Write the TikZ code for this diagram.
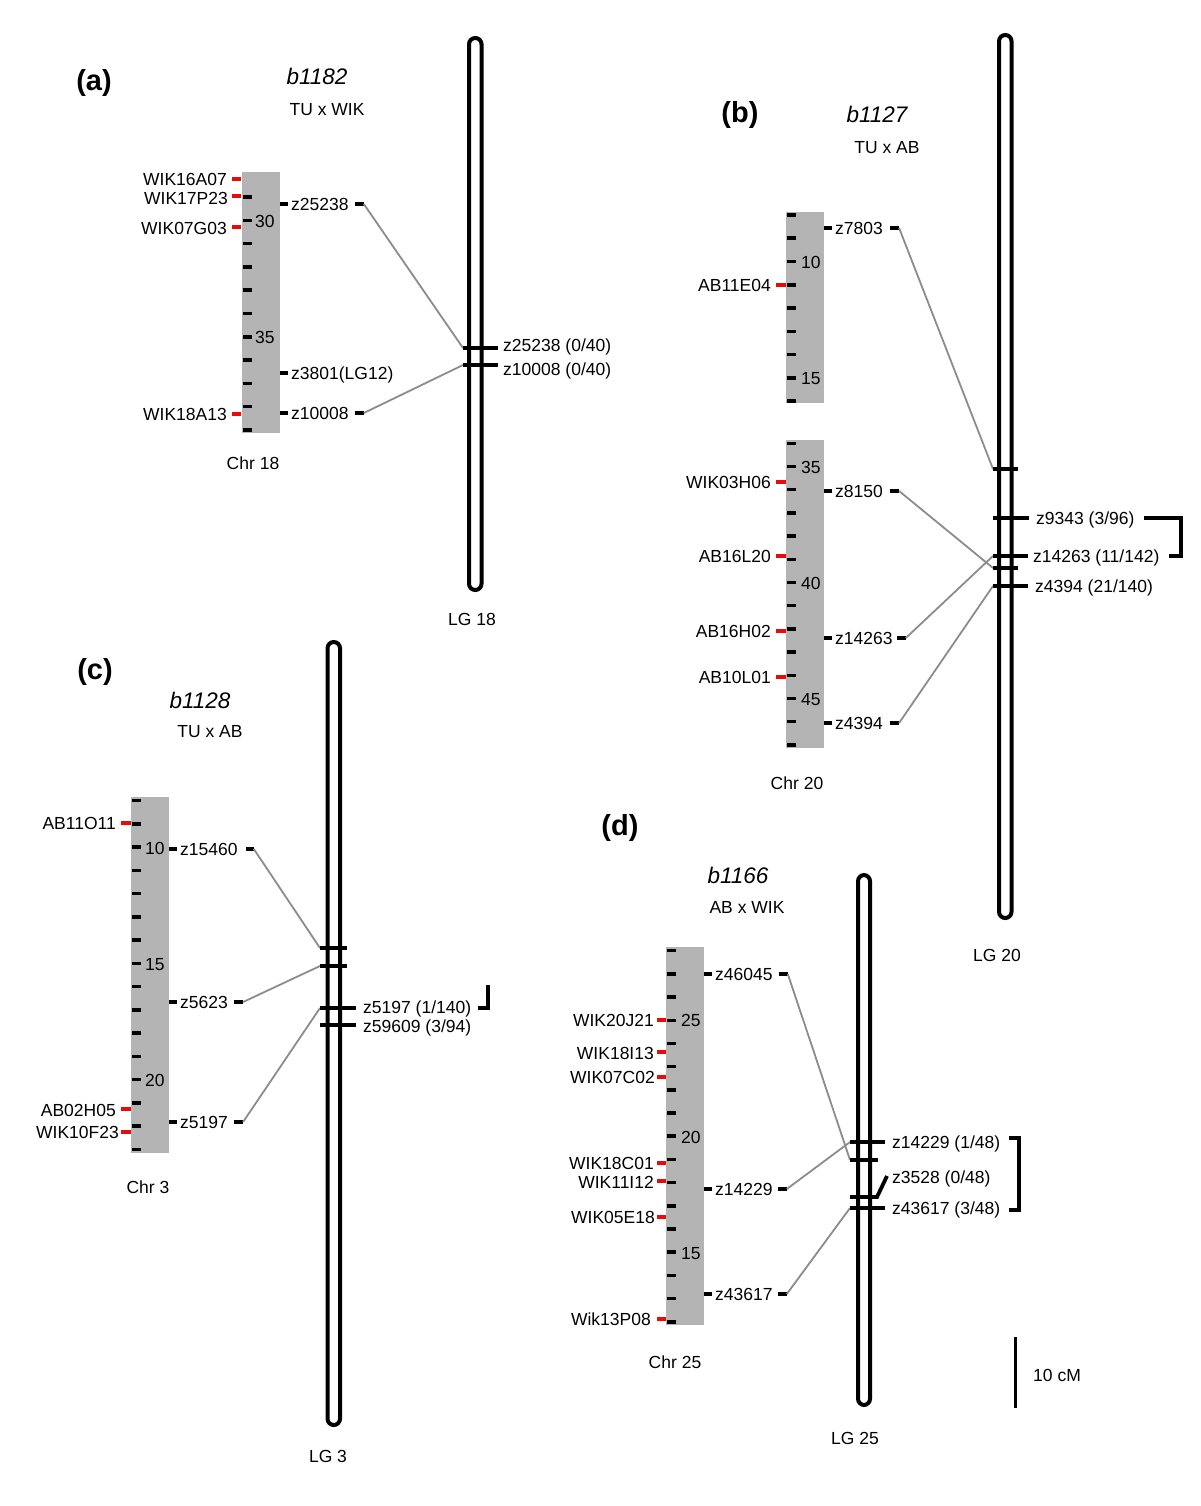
\documentclass[tikz,border=0pt]{standalone}
\usepackage{fontspec}
\setmainfont{Liberation Sans}
\definecolor{chrgray}{RGB}{180,180,180}
\definecolor{linkgray}{RGB}{140,140,140}
\definecolor{mred}{RGB}{235,10,10}
\begin{document}
\begin{tikzpicture}[x=1pt,y=-1pt,
        mtick/.style={line width=3.5pt},
        rtick/.style={line width=3.5pt,color=mred},
        cross/.style={line width=3.8pt},
        link/.style={line width=1.8pt,color=linkgray},
        lgbar/.style={line width=4pt,rounded corners=6.2pt},
        chr/.style={fill=chrgray},
        lbl/.style={inner sep=0pt,text height=12.5pt,text depth=0pt,
            font=\fontsize{17.5}{20}\selectfont},
        panel/.style={inner sep=0pt,font=\fontsize{29}{32}\selectfont\bfseries},
        clone/.style={inner sep=0pt,text height=16pt,text depth=0pt,
            font=\fontsize{22.5}{26}\selectfont\itshape}]
\fill[white] (0,0) rectangle (1200,1506);

% (a) b1182
\node[panel] (pa) at (94,83) {(a)};
\node[clone] (b1182) at (317,77) {b1182};
\node[lbl] (crossa) at (327,109) {TU x WIK};
\fill[chr] (242,172) rectangle (280,433);
\foreach \k in {0,...,10} \draw[mtick] (243,{197+23.3*\k}) -- ++(9,0);
\node[lbl,anchor=west] (a30) at (255,221) {30};
\node[lbl,anchor=west] (a35) at (255,337) {35};
\draw[rtick] (232,179) -- (241,179);
\node[lbl,anchor=east] (wik16a07) at (227,179) {WIK16A07};
\draw[rtick] (232,196) -- (241,196);
\node[lbl,anchor=east] (wik17p23) at (228,198) {WIK17P23};
\draw[rtick] (232,227) -- (241,227);
\node[lbl,anchor=east] (wik07g03) at (227,228) {WIK07G03};
\draw[rtick] (232,414) -- (241,414);
\node[lbl,anchor=east] (wik18a13) at (227,414) {WIK18A13};
\draw[mtick] (280,204) -- (288,204);
\node[lbl,anchor=west] (z25238) at (291,204) {z25238};
\draw[mtick] ([xshift=6pt]z25238.east) -- ++(9,0) coordinate (z25238e);
\draw[mtick] (280,373) -- (288,373);
\node[lbl,anchor=west] (z3801) at (291,373) {z3801(LG12)};
\draw[mtick] (280,413) -- (288,413);
\node[lbl,anchor=west] (z10008) at (291,413) {z10008};
\draw[mtick] ([xshift=6pt]z10008.east) -- ++(9,0) coordinate (z10008e);
\node[lbl] (chr18) at (253,463) {Chr 18};

\coordinate (lg18a) at (463,348);
\coordinate (lg18b) at (463,365);
\draw[link] (z25238e) -- (lg18a);
\draw[link] (z10008e) -- (lg18b);
\draw[lgbar] (469,38) rectangle (481.5,590);
\draw[cross] (lg18a) -- ++(35,0);
\draw[cross] (lg18b) -- ++(35,0);
\node[lbl,anchor=west] (m25238) at (503,345) {z25238 (0/40)};
\node[lbl,anchor=west] (m10008) at (503,369) {z10008 (0/40)};
\node[lbl] (lg18) at (472,619) {LG 18};

% (b) b1127
\node[panel] (pb) at (740,115) {(b)};
\node[clone] (b1127) at (877,115) {b1127};
\node[lbl] (crossb) at (887,147) {TU x AB};
\fill[chr] (786,212) rectangle (824,403);
\foreach \k in {0,...,8} \draw[mtick] (787,{215+23.25*\k}) -- ++(9,0);
\node[lbl,anchor=west] (b10) at (801,262) {10};
\node[lbl,anchor=west] (b15) at (801,378) {15};
\draw[rtick] (776,285) -- (786,285);
\node[lbl,anchor=east] (ab11e04) at (771,285) {AB11E04};
\draw[mtick] (824,228) -- (832,228);
\node[lbl,anchor=west] (z7803) at (835,228) {z7803};
\draw[mtick] ([xshift=7pt]z7803.east) -- ++(9,0) coordinate (z7803e);

\fill[chr] (786,440) rectangle (824,748);
\foreach \k in {0,...,13} \draw[mtick] (787,{443.3+23.2*\k}) -- ++(9,0);
\node[lbl,anchor=west] (b35) at (801,467) {35};
\node[lbl,anchor=west] (b40) at (801,583) {40};
\node[lbl,anchor=west] (b45) at (801,699) {45};
\draw[rtick] (776,482) -- (786,482);
\node[lbl,anchor=east] (wik03h06) at (771,482) {WIK03H06};
\draw[rtick] (776,556) -- (786,556);
\node[lbl,anchor=east] (ab16l20) at (771,556) {AB16L20};
\draw[rtick] (776,631) -- (786,631);
\node[lbl,anchor=east] (ab16h02) at (771,631) {AB16H02};
\draw[rtick] (776,677) -- (786,677);
\node[lbl,anchor=east] (ab10l01) at (771,677) {AB10L01};
\draw[mtick] (824,491) -- (832,491);
\node[lbl,anchor=west] (z8150) at (835,491) {z8150};
\draw[mtick] ([xshift=7pt]z8150.east) -- ++(9,0) coordinate (z8150e);
\draw[mtick] (824,638) -- (832,638);
\node[lbl,anchor=west] (z14263) at (835,638) {z14263};
\draw[mtick] ([xshift=4pt]z14263.east) -- ++(9,0) coordinate (z14263e);
\draw[mtick] (824,723) -- (832,723);
\node[lbl,anchor=west] (z4394) at (835,723) {z4394};
\draw[mtick] ([xshift=7pt]z4394.east) -- ++(9,0) coordinate (z4394e);
\node[lbl] (chr20) at (797,783) {Chr 20};

\coordinate (lg20a) at (993,469);
\coordinate (lg20b) at (993,518);
\coordinate (lg20c) at (993,556);
\coordinate (lg20d) at (993,568);
\coordinate (lg20e) at (993,586);
\draw[link] (z7803e) -- (lg20a);
\draw[link] (z8150e) -- (lg20d);
\draw[link] (z14263e) -- (lg20c);
\draw[link] (z4394e) -- (lg20e);
\draw[lgbar] (999,35) rectangle (1011.5,918);
\draw[cross] (lg20a) -- ++(25,0);
\draw[cross] (lg20b) -- ++(36,0);
\draw[cross] (lg20c) -- ++(35,0);
\draw[cross] (lg20d) -- ++(25,0);
\draw[cross] (lg20e) -- ++(35,0);
\node[lbl,anchor=west] (m9343) at (1036,518) {z9343 (3/96)};
\node[lbl,anchor=west] (m14263) at (1033,556) {z14263 (11/142)};
\node[lbl,anchor=west] (m4394) at (1035,586) {z4394 (21/140)};
\draw[cross] (1144,518) -- (1181,518) -- (1181,556) -- (1169,556);
\node[lbl] (lg20) at (997,955) {LG 20};

% (c) b1128
\node[panel] (pc) at (95,672) {(c)};
\node[clone] (b1128) at (200,700) {b1128};
\node[lbl] (crossc) at (210,731) {TU x AB};
\fill[chr] (131,797) rectangle (169,1153);
\foreach \k in {0,...,15} \draw[mtick] (132,{800.7+23.25*\k}) -- ++(9,0);
\node[lbl,anchor=west] (c10) at (145,848) {10};
\node[lbl,anchor=west] (c15) at (145,964) {15};
\node[lbl,anchor=west] (c20) at (145,1080) {20};
\draw[rtick] (121,823) -- (131,823);
\node[lbl,anchor=east] (ab11o11) at (116,823) {AB11O11};
\draw[rtick] (121,1109) -- (131,1109);
\node[lbl,anchor=east] (ab02h05) at (116,1110) {AB02H05};
\draw[rtick] (121,1132) -- (131,1132);
\node[lbl,anchor=east] (wik10f23) at (119,1132) {WIK10F23};
\draw[mtick] (169,849) -- (177,849);
\node[lbl,anchor=west] (z15460) at (180,849) {z15460};
\draw[mtick] ([xshift=8pt]z15460.east) -- ++(8,0) coordinate (z15460e);
\draw[mtick] (169,1002) -- (177,1002);
\node[lbl,anchor=west] (z5623) at (180,1002) {z5623};
\draw[mtick] ([xshift=6pt]z5623.east) -- ++(9,0) coordinate (z5623e);
\draw[mtick] (169,1122) -- (177,1122);
\node[lbl,anchor=west] (z5197) at (180,1122) {z5197};
\draw[mtick] ([xshift=6pt]z5197.east) -- ++(9,0) coordinate (z5197e);
\node[lbl] (chr3) at (148,1187) {Chr 3};

\coordinate (lg3a) at (320,948);
\coordinate (lg3b) at (320,966);
\coordinate (lg3c) at (320,1008);
\coordinate (lg3d) at (320,1025);
\draw[link] (z15460e) -- (lg3a);
\draw[link] (z5623e) -- (lg3b);
\draw[link] (z5197e) -- (lg3c);
\draw[lgbar] (327.5,642) rectangle (340,1425);
\draw[cross] (lg3a) -- ++(27,0);
\draw[cross] (lg3b) -- ++(27,0);
\draw[cross] (lg3c) -- ++(36,0);
\draw[cross] (lg3d) -- ++(36,0);
\node[lbl,anchor=west] (m5197) at (363,1007) {z5197 (1/140)};
\node[lbl,anchor=west] (m59609) at (363,1026) {z59609 (3/94)};
\draw[cross] (478,1008) -- (488,1008) -- (488,985);
\node[lbl] (lg3) at (328,1456) {LG 3};

% (d) b1166
\node[panel] (pd) at (620,828) {(d)};
\node[clone] (b1166) at (738,875) {b1166};
\node[lbl] (crossd) at (747,907) {AB x WIK};
\fill[chr] (666,947) rectangle (704,1325);
\foreach \k in {0,...,16} \draw[mtick] (667,{950.7+23.19*\k}) -- ++(9,0);
\node[lbl,anchor=west] (d25) at (681,1020) {25};
\node[lbl,anchor=west] (d20) at (681,1137) {20};
\node[lbl,anchor=west] (d15) at (681,1253) {15};
\draw[rtick] (657,1020) -- (666,1020);
\node[lbl,anchor=east] (wik20j21) at (654,1020) {WIK20J21};
\draw[rtick] (657,1052) -- (666,1052);
\node[lbl,anchor=east] (wik18i13) at (654,1053) {WIK18I13};
\draw[rtick] (657,1077) -- (666,1077);
\node[lbl,anchor=east] (wik07c02) at (655,1077) {WIK07C02};
\draw[rtick] (657,1163) -- (666,1163);
\node[lbl,anchor=east] (wik18c01) at (654,1163) {WIK18C01};
\draw[rtick] (657,1181) -- (666,1181);
\node[lbl,anchor=east] (wik11i12) at (654,1182) {WIK11I12};
\draw[rtick] (657,1217) -- (666,1217);
\node[lbl,anchor=east] (wik05e18) at (655,1217) {WIK05E18};
\draw[rtick] (657,1319) -- (666,1319);
\node[lbl,anchor=east] (wik13p08) at (651,1319) {Wik13P08};
\draw[mtick] (704,974) -- (712,974);
\node[lbl,anchor=west] (z46045) at (715,974) {z46045};
\draw[mtick] ([xshift=6pt]z46045.east) -- ++(9,0) coordinate (z46045e);
\draw[mtick] (704,1189) -- (712,1189);
\node[lbl,anchor=west] (z14229) at (715,1189) {z14229};
\draw[mtick] ([xshift=5pt]z14229.east) -- ++(9,0) coordinate (z14229e);
\draw[mtick] (704,1294) -- (712,1294);
\node[lbl,anchor=west] (z43617) at (715,1294) {z43617};
\draw[mtick] ([xshift=5pt]z43617.east) -- ++(9,0) coordinate (z43617e);
\node[lbl] (chr25) at (675,1362) {Chr 25};

\coordinate (lg25a) at (850,1142);
\coordinate (lg25b) at (850,1160);
\coordinate (lg25c) at (850,1197);
\coordinate (lg25d) at (850,1208);
\draw[link] (z46045e) -- (lg25b);
\draw[link] (z14229e) -- (lg25a);
\draw[link] (z43617e) -- (lg25d);
\draw[lgbar] (858,875) rectangle (870,1405);
\draw[cross] (lg25a) -- ++(35,0);
\draw[cross] (lg25b) -- ++(28,0);
\draw[cross] (lg25c) -- ++(27,0) -- (887,1176);
\draw[cross] (lg25d) -- ++(35,0);
\node[lbl,anchor=west] (m14229) at (892,1142) {z14229 (1/48)};
\node[lbl,anchor=west] (m3528) at (892,1177) {z3528 (0/48)};
\node[lbl,anchor=west] (m43617) at (892,1208) {z43617 (3/48)};
\draw[cross] (1009,1138) -- (1019,1138) -- (1019,1210) -- (1009,1210);
\node[lbl] (lg25) at (855,1438) {LG 25};

% scale
\draw[line width=3pt] (1015,1337) -- (1015,1408);
\node[lbl,anchor=west] (scale) at (1033,1375) {10 cM};
\end{tikzpicture}
\end{document}
